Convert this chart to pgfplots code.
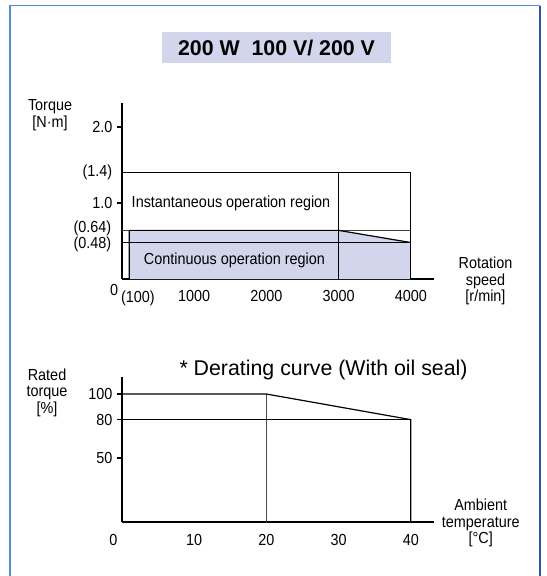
\documentclass[border=0pt]{standalone}
\usepackage{fontspec}
\setmainfont[FakeStretch=0.9]{Liberation Sans}
\newfontfamily\titlefont{Liberation Sans}
\usepackage{pgfplots}
\pgfplotsset{compat=1.18}

\definecolor{lav}{RGB}{210,213,236}
\definecolor{frameblue}{RGB}{80,140,215}
\definecolor{framedark}{RGB}{45,85,165}

\tikzset{lbl/.style={font=\fontsize{12}{13}\selectfont, anchor=east}}

\pgfplotsset{
  motor/.style={
    scale only axis,
    anchor=origin,
    clip=false,
    axis x line=bottom,
    axis y line=left,
    axis line style={-, line width=0.9pt},
    tick align=outside,
    major tick length=3.75pt,
    tick style={line width=0.9pt, black},
    xtick style={draw=none},
    /pgf/number format/assume math mode=true,
    /pgf/number format/1000 sep={},
    ticklabel style={font=\fontsize{12}{13}\selectfont},
    label style={font=\fontsize{12}{12.4}\selectfont, align=center},
  },
}

\begin{document}
\begin{tikzpicture}
  \useasboundingbox (0pt,0pt) rectangle (410.25pt,-432pt);

  \begin{scope}[x=0.75pt, y=-0.75pt]
    \draw[frameblue, line width=1.2pt] (10,590) -- (10,5.5) -- (540,5.5);
    \draw[framedark, line width=1.2pt] (540,5.5) -- (540,590);
    \node[fill=lav, minimum width=171.3pt, minimum height=23pt, inner sep=0pt,
          font=\titlefont\fontsize{16}{18}\selectfont\bfseries] at (276.5,47.7)
          {200 W\ \ 100 V/ 200 V};
  \end{scope}

  % torque vs rotation speed
  \begin{axis}[
    motor,
    at={(91.5pt,-209.25pt)},
    width=234.2pt, height=132pt,
    xmin=0, xmax=4325, ymin=0, ymax=2.316,
    xtick={1000,2000,3000,4000},
    xticklabels={1000,2000,3000,4000},
    xticklabel style={yshift=-1.5pt},
    extra x ticks={100},
    extra x tick labels={(100)},
    extra x tick style={xticklabel style={xshift=6.5pt}},
    ytick={1,2},
    yticklabels={1.0,2.0},
    extra y ticks={1.4},
    extra y tick labels={(1.4)},
    extra y tick style={major tick style={draw=none}},
    ylabel={Torque\\{[N·m]}},
    ylabel style={at={(rel axis cs:-0.2305,0.932)}, anchor=center, rotate=-90},
    xlabel={Rotation\\speed\\{[r/min]}},
    xlabel style={at={(rel axis cs:1.164,-0.011)}, anchor=center},
  ]
    \addplot[fill=lav, draw=none] coordinates
      {(100,0) (100,0.64) (3000,0.64) (4000,0.48) (4000,0)} \closedcycle;
    \addplot[black!75, line width=0.9pt] coordinates {(0,0.64) (4000,0.64)};
    \addplot[black, line width=0.9pt] coordinates {(0,0.48) (4000,0.48)};
    \addplot[black, line width=0.9pt] coordinates {(100,0) (100,0.64) (3000,0.64) (4000,0.48)};
    \addplot[black, line width=0.9pt] coordinates {(3000,0) (3000,1.4)};
    \addplot[black, line width=0.9pt] coordinates {(0,1.4) (4000,1.4) (4000,0)};
    \node[lbl, xshift=-4.6pt, yshift=1.2pt] at (axis cs:0,0.64) {(0.64)};
    \node[lbl, xshift=-4.6pt, yshift=-1.2pt] at (axis cs:0,0.48) {(0.48)};
    \node[lbl, xshift=0.6pt, yshift=-8.25pt] at (axis cs:0,0) {0};
    \node[font=\fontsize{12}{13}\selectfont]
      at (axis cs:1510,1.0) {Instantaneous operation region};
    \node[font=\fontsize{12}{13}\selectfont]
      at (axis cs:1557,0.25) {Continuous operation region};
  \end{axis}

  % derating curve
  \begin{axis}[
    motor,
    at={(91.5pt,-391.5pt)},
    width=234.2pt, height=108.75pt,
    xmin=0, xmax=43.25, ymin=0, ymax=113.3,
    xtick={10,20,30,40},
    xticklabel style={yshift=-2.25pt},
    extra x ticks={0},
    extra x tick labels={0},
    extra x tick style={xticklabel style={xshift=-6.45pt}},
    ytick={50,80,100},
    xlabel={Ambient\\temperature\\{[°C]}},
    xlabel style={at={(rel axis cs:1.149,-0.007)}, anchor=center},
    ylabel={Rated\\torque\\{[\%]}},
    ylabel style={at={(rel axis cs:-0.240,0.893)}, anchor=center, rotate=-90},
  ]
    \addplot[black!70, line width=0.9pt] coordinates {(20,0) (20,100)};
    \addplot[black, line width=0.9pt] coordinates {(0,80) (40,80)};
    \addplot[black, line width=0.9pt] coordinates {(0,100) (20,100) (40,80) (40,0)};
    \node[font=\titlefont\fontsize{16}{18}\selectfont]
      at (rel axis cs:0.6455,1.048) {* Derating curve (With oil seal)};
  \end{axis}
\end{tikzpicture}
\end{document}
